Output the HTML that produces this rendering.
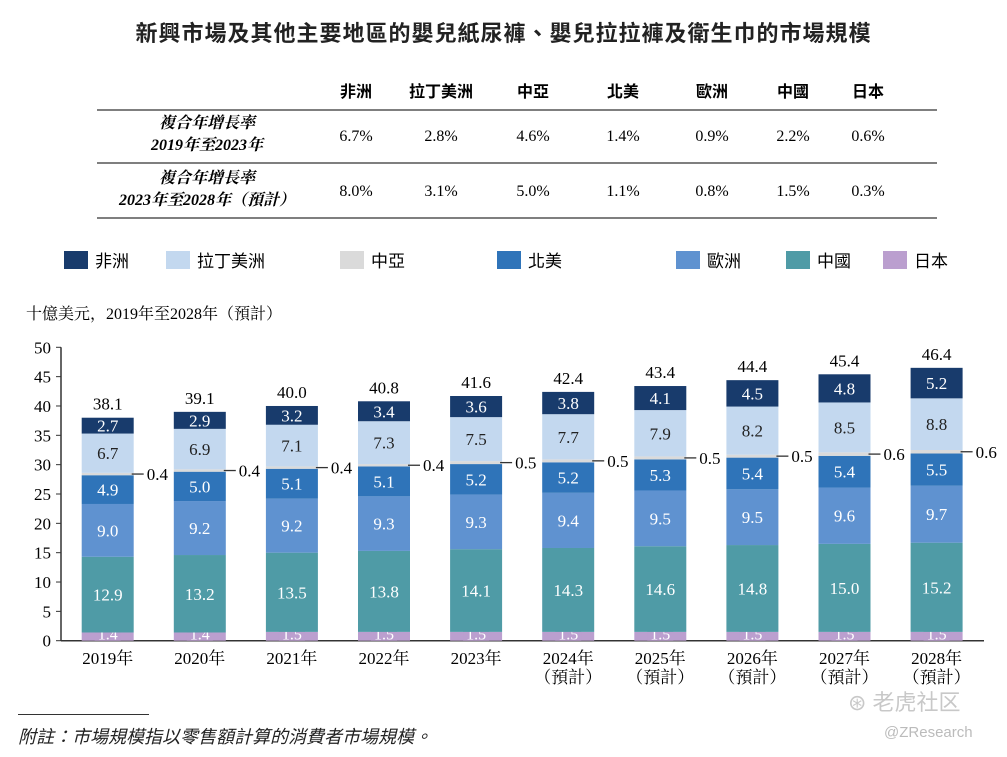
<!DOCTYPE html>
<html><head><meta charset="utf-8">
<style>
body{margin:0;width:1007px;height:757px;background:#fff;overflow:hidden;font-family:"Liberation Serif","Noto Serif CJK SC","Noto Sans CJK TC",serif;color:#222;}
.abs{position:absolute;white-space:nowrap;}
</style></head>
<body>
<div class="abs" style="left:0;width:1007px;top:16px;text-align:center;font-family:'Liberation Sans','Noto Sans CJK TC',sans-serif;font-weight:bold;font-size:22px;letter-spacing:1px;">新興市場及其他主要地區的嬰兒紙尿褲、嬰兒拉拉褲及衛生巾的市場規模</div>

<svg width="1007" height="757" style="position:absolute;left:0;top:0">
<g id="table"></g>
<g id="legend"></g>
<g id="plot"></g>
</svg>

<div class="abs" style="left:18px;top:714px;width:131px;border-top:1px solid #333;"></div>
<div class="abs" style="left:18px;top:723px;font-size:18px;font-style:italic;font-family:'Liberation Serif','Noto Sans CJK TC',serif;">附註：市場規模指以零售額計算的消費者市場規模。</div>
<div class="abs" style="left:848px;top:685px;font-size:22px;color:#c8c8c8;font-family:'Liberation Sans','Noto Sans CJK SC',sans-serif;">⊛ 老虎社区</div>
<div class="abs" style="left:884px;top:724px;font-size:15px;color:#bbb;font-family:'Liberation Sans',sans-serif;">@ZResearch</div>

<script>
const NS='http://www.w3.org/2000/svg';
const regions=['非洲','拉丁美洲','中亞','北美','歐洲','中國','日本'];
const cagr1=['6.7%','2.8%','4.6%','1.4%','0.9%','2.2%','0.6%'];
const cagr2=['8.0%','3.1%','5.0%','1.1%','0.8%','1.5%','0.3%'];
const years=['2019年','2020年','2021年','2022年','2023年','2024年','2025年','2026年','2027年','2028年'];
const forecast=[false,false,false,false,false,true,true,true,true,true];
const totals=[38.1,39.1,40.0,40.8,41.6,42.4,43.4,44.4,45.4,46.4];
const japan=[1.4,1.4,1.5,1.5,1.5,1.5,1.5,1.5,1.5,1.5];
const china=[12.9,13.2,13.5,13.8,14.1,14.3,14.6,14.8,15.0,15.2];
const europe=[9.0,9.2,9.2,9.3,9.3,9.4,9.5,9.5,9.6,9.7];
const northAmerica=[4.9,5.0,5.1,5.1,5.2,5.2,5.3,5.4,5.4,5.5];
const centralAsia=[0.4,0.4,0.4,0.4,0.5,0.5,0.5,0.5,0.6,0.6];
const latinAmerica=[6.7,6.9,7.1,7.3,7.5,7.7,7.9,8.2,8.5,8.8];
const africa=[2.7,2.9,3.2,3.4,3.6,3.8,4.1,4.5,4.8,5.2];
const yTicks=[0,5,10,15,20,25,30,35,40,45,50];

function el(tag,attrs,parent,txt){const e=document.createElementNS(NS,tag);for(const k in attrs)e.setAttribute(k,attrs[k]);if(txt!=null)e.textContent=txt;parent.appendChild(e);return e;}
const sans="'Liberation Sans','Noto Sans CJK TC',sans-serif";
const serif="'Liberation Serif','Noto Serif CJK SC',serif";

// table
const T=document.getElementById('table');
const colX=[356,441,533,623,712,793,868];
regions.forEach((r,i)=>{const t=el('text',{x:colX[i],y:97,'text-anchor':'middle','font-size':16,'font-family':sans,'font-weight':'bold'},T,r);
});
[110,163,218].forEach((y,i)=>{const l=el('line',{x1:97,x2:937,y1:y,y2:y,stroke:'#333','stroke-width':1.2},T);});
const rowLab=[['複合年增長率','2019年至2023年'],['複合年增長率','2023年至2028年（預計）']];
[[128,150],[183,205]].forEach((ys,r)=>{
 rowLab[r].forEach((s,j)=>{const t=el('text',{x:207,y:ys[j],'text-anchor':'middle','font-size':16,'font-style':'italic','font-weight':'bold','font-family':serif},T,s);});
 const vals=r===0?cagr1:cagr2;
 vals.forEach((v,i)=>{const t=el('text',{x:colX[i],y:ys[0]+13,'text-anchor':'middle','font-size':16,'font-family':serif},T,v);});
});

// legend
const colors=['#183b6c','#c3d8ef','#dadada','#2f74b9','#5f92d0','#4f9ba6','#bb9fcf'];
const L=document.getElementById('legend');
const legX=[64,166,340,497,676,786,883];
regions.forEach((r,i)=>{const g=el('g',{},L);
 el('rect',{x:legX[i],y:251,width:24,height:18,fill:colors[i]},g);
 el('text',{x:legX[i]+31,y:267,'font-size':17,'font-family':sans},g,r);});
const ut=el('text',{x:26,y:319,'font-size':16,'font-family':serif},L,'十億美元，2019年至2028年（預計）');


// plot
const P=document.getElementById('plot');
const x0=61,yBase=640.7,yTop=347.3,maxV=50;
const yS=v=>yBase-(yBase-yTop)*v/maxV;
const barW=52,firstX=81.7,step=92.1;
const xS=i=>firstX+i*step;
el('line',{x1:x0,x2:x0,y1:yTop,y2:yBase,stroke:'#333','stroke-width':1.5},P);
el('line',{x1:x0,x2:984,y1:yBase,y2:yBase,stroke:'#333','stroke-width':1.5},P);
yTicks.forEach(v=>{el('line',{x1:x0-5,x2:x0,y1:yS(v),y2:yS(v),stroke:'#333'},P);
 const t=el('text',{x:x0-10,y:yS(v)+6,'text-anchor':'end','font-size':17,'font-family':serif},P,v);});
const series=[japan,china,europe,northAmerica,centralAsia,latinAmerica,africa];
const sColors=[colors[6],colors[5],colors[4],colors[3],colors[2],colors[1],colors[0]];
const txtCol=['#fff','#fff','#fff','#fff','#222','#222','#fff'];
years.forEach((y,i)=>{
 let cum=0;const x=xS(i);
 series.forEach((s,k)=>{
  const v=s[i],y1=yS(cum),y2=yS(cum+v);
  const r=el('rect',{x:x,y:y2,width:barW,height:y1-y2,fill:sColors[k]},P);
  
  if(k===0){
   el('rect',{x:x+13,y:y2-3,width:26,height:y1-y2+3,fill:sColors[k]},P);
   el('text',{x:x+barW/2,y:y1-1,'text-anchor':'middle','font-size':16,fill:'#fff','font-family':serif},P,v.toFixed(1));
  } else if(k===4){
   el('line',{x1:x+barW-2,x2:x+barW+10,y1:(y1+y2)/2,y2:(y1+y2)/2,stroke:'#333','stroke-width':1.3},P);
   el('text',{x:x+barW+13,y:(y1+y2)/2+6,'font-size':17,'font-family':serif},P,v.toFixed(1));
  } else {
   el('text',{x:x+barW/2,y:(y1+y2)/2+6,'text-anchor':'middle','font-size':17,fill:txtCol[k],'font-family':serif},P,v.toFixed(1));
  }
  cum+=v;
 });
 const tt=el('text',{x:x+barW/2,y:yS(cum)-8,'text-anchor':'middle','font-size':17,'font-family':serif},P,totals[i].toFixed(1));
 
 const xl=el('text',{x:x+barW/2,y:664,'text-anchor':'middle','font-size':17,'font-family':serif},P,y);
 
 if(forecast[i]){el('text',{x:x+barW/2,y:683,'text-anchor':'middle','font-size':17,'font-family':serif},P,'（預計）');}
});
</script>
</body></html>
